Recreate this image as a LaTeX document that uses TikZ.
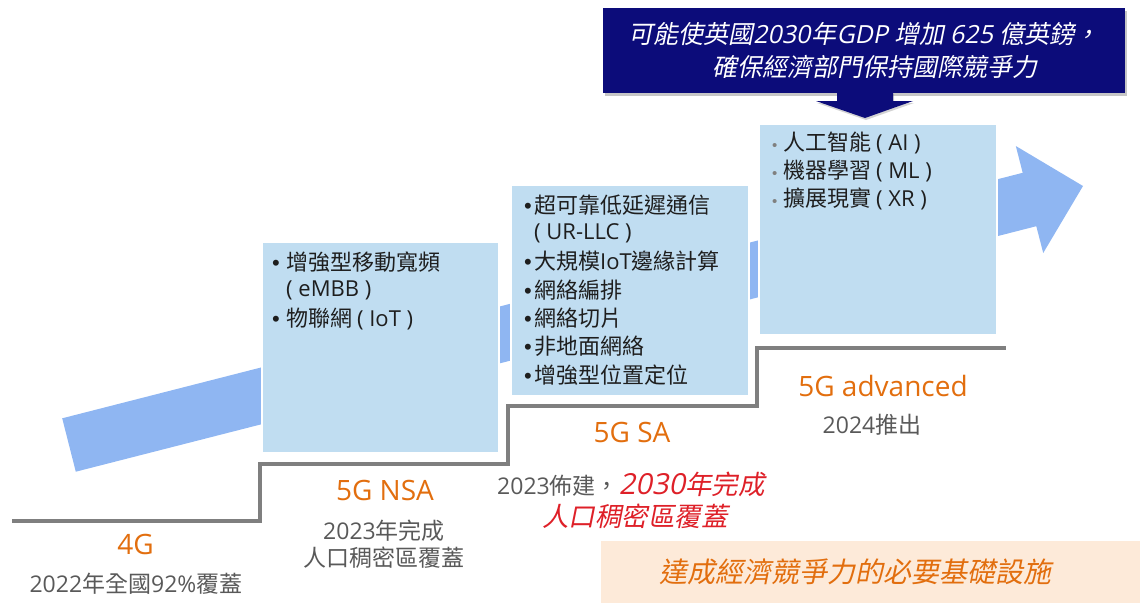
\documentclass[tikz,border=0pt]{standalone}
\usepackage{fontspec}
\setmainfont{Noto Sans CJK TC}
\newfontfamily\slfont{Noto Sans CJK TC}[FakeSlant=0.2]
\newfontfamily\lat{Open Sans}
\newfontfamily\latsl{Open Sans}[FakeSlant=0.2]
\newfontfamily\bulfont{Liberation Sans}
\usetikzlibrary{shadows}
\definecolor{navyc}{RGB}{12,12,122}
\definecolor{boxblue}{RGB}{192,221,241}
\definecolor{arrowblue}{RGB}{143,182,242}
\definecolor{stepgray}{RGB}{127,127,127}
\definecolor{orangec}{RGB}{226,110,14}
\definecolor{labgray}{RGB}{89,89,89}
\definecolor{redc}{RGB}{222,32,40}
\definecolor{peach}{RGB}{253,234,217}
\definecolor{txtblack}{RGB}{30,30,30}
\definecolor{bulgray}{RGB}{128,128,128}
\tikzset{
  stepbox/.style={fill=boxblue, draw=white, line width=1.5pt, inner sep=0, anchor=north west},
  boxtxt/.style={anchor=west, inner sep=0, text=txtblack, font=\fontsize{22}{26}\selectfont},
  stage/.style={inner sep=0, text=orangec, font=\lat\fontsize{28}{32}\selectfont},
  note/.style={inner sep=0, text=labgray, font=\fontsize{23}{28}\selectfont},
  stepline/.style={draw=stepgray, line width=4pt},
}
\newcommand{\bulA}{\makebox[14pt][l]{\bulfont •}}
\newcommand{\bulB}{\makebox[10pt][l]{\bulfont •}}
\newcommand{\bulC}{\makebox[11pt][l]{\textcolor{bulgray}{\bulfont\fontsize{15}{15}\selectfont •}}}
\begin{document}
\begin{tikzpicture}[x=1pt,y=-1pt]
\useasboundingbox (0,0) rectangle (1140,603);

% big rising arrow
\fill[arrowblue] (62.2,418.3) -- (1022.7,172.8) -- (1015.8,146.0) -- (1083,186)
  -- (1043.2,253.0) -- (1036.3,226.2) -- (75.8,471.7) -- cycle;

% step line
\coordinate (s0) at (12,521);
\coordinate (s1) at (260,464);
\coordinate (s2) at (508,406);
\coordinate (s3) at (757,348);
\coordinate (s4) at (1006,348);
\draw[stepline] (s0) -| (s1) -| (s2) -| (s3) -- (s4);

% boxes
\node[stepbox, minimum width=237pt, minimum height=211pt] (boxA) at (261,241) {};
\node[stepbox, minimum width=238pt, minimum height=211pt] (boxB) at (510,184) {};
\node[stepbox, minimum width=238pt, minimum height=211pt] (boxC) at (758,123) {};

% box texts
\node[boxtxt] (a1) at (272,262) {\bulA 增強型移動寬頻};
\node[boxtxt] (a2) at (272,290.5) {\hspace*{14pt}{\lat ( eMBB )}};
\node[boxtxt] (a3) at (272,319) {\bulA 物聯網 {\lat ( IoT )}};

\node[boxtxt] (b1) at (524,205) {\bulB 超可靠低延遲通信};
\node[boxtxt] (b2) at (524,233.3) {\hspace*{10pt}{\lat ( UR-LLC )}};
\node[boxtxt] (b3) at (524,261.6) {\bulB 大規模{\lat IoT}邊緣計算};
\node[boxtxt] (b4) at (524,289.9) {\bulB 網絡編排};
\node[boxtxt] (b5) at (524,318.2) {\bulB 網絡切片};
\node[boxtxt] (b6) at (524,346.5) {\bulB 非地面網絡};
\node[boxtxt] (b7) at (524,374.8) {\bulB 增強型位置定位};

\node[boxtxt] (c1) at (772,143) {\bulC 人工智能 {\lat ( AI )}};
\node[boxtxt] (c2) at (772,171) {\bulC 機器學習 {\lat ( ML )}};
\node[boxtxt] (c3) at (772,199) {\bulC 擴展現實 {\lat ( XR )}};

% stage labels
\node[stage] (g4) at (135.5,544) {4G};
\node[note] (g4n) at (136,584) {{\lat 2022}年全國{\lat 92\%}覆蓋};
\node[stage] (nsa) at (385,490) {5G NSA};
\node[note, align=center, font=\fontsize{23}{27.5}\selectfont] (nsan) at (384,544) {{\lat 2023}年完成\\人口稠密區覆蓋};
\node[stage] (sa) at (632,432) {5G SA};
\node[note, anchor=west] (san) at (497,484) {{\lat 2023}佈建，\textcolor{redc}{{\latsl\fontsize{29}{30}\selectfont 2030}{\slfont\fontsize{26.5}{30}\selectfont 年完成}}};
\node[inner sep=0, text=redc, font=\slfont\fontsize{26.5}{30}\selectfont] (san2) at (635,516) {人口稠密區覆蓋};
\node[stage] (adv) at (883,386) {5G advanced};
\node[note] (advn) at (872,425) {{\lat 2024}推出};

% top goal box with down arrow
\node[fill=navyc, minimum width=522pt, minimum height=85pt, inner sep=0,
      drop shadow={opacity=0.45, shadow xshift=2pt, shadow yshift=-3pt},
      text=white, align=center, font=\slfont\fontsize{25}{33}\selectfont] (goal) at (864,50.5)
  {可能使英國{\latsl 2030}\kern1pt 年{\latsl GDP}\kern1pt\ 增加 {\latsl 625}\kern1pt\ 億英鎊，\\\hspace*{22pt}確保經濟部門保持國際競爭力};
\coordinate (gtip) at (865,118);
\fill[navyc, drop shadow={opacity=0.35, shadow xshift=1pt, shadow yshift=-2pt}]
  (837,92) -- (893,92) -- (893,101) -- (913,101) -- (gtip) -- (816,101) -- (837,101) -- cycle;

% bottom banner
\node[fill=peach, minimum width=539pt, minimum height=62pt, inner sep=0, anchor=north west] (banner) at (601,541) {};
\node[inner sep=0, text=orangec, font=\slfont\fontsize{28}{30}\selectfont] (bannertxt) at (855,572) {達成經濟競爭力的必要基礎設施};
\end{tikzpicture}
\end{document}
